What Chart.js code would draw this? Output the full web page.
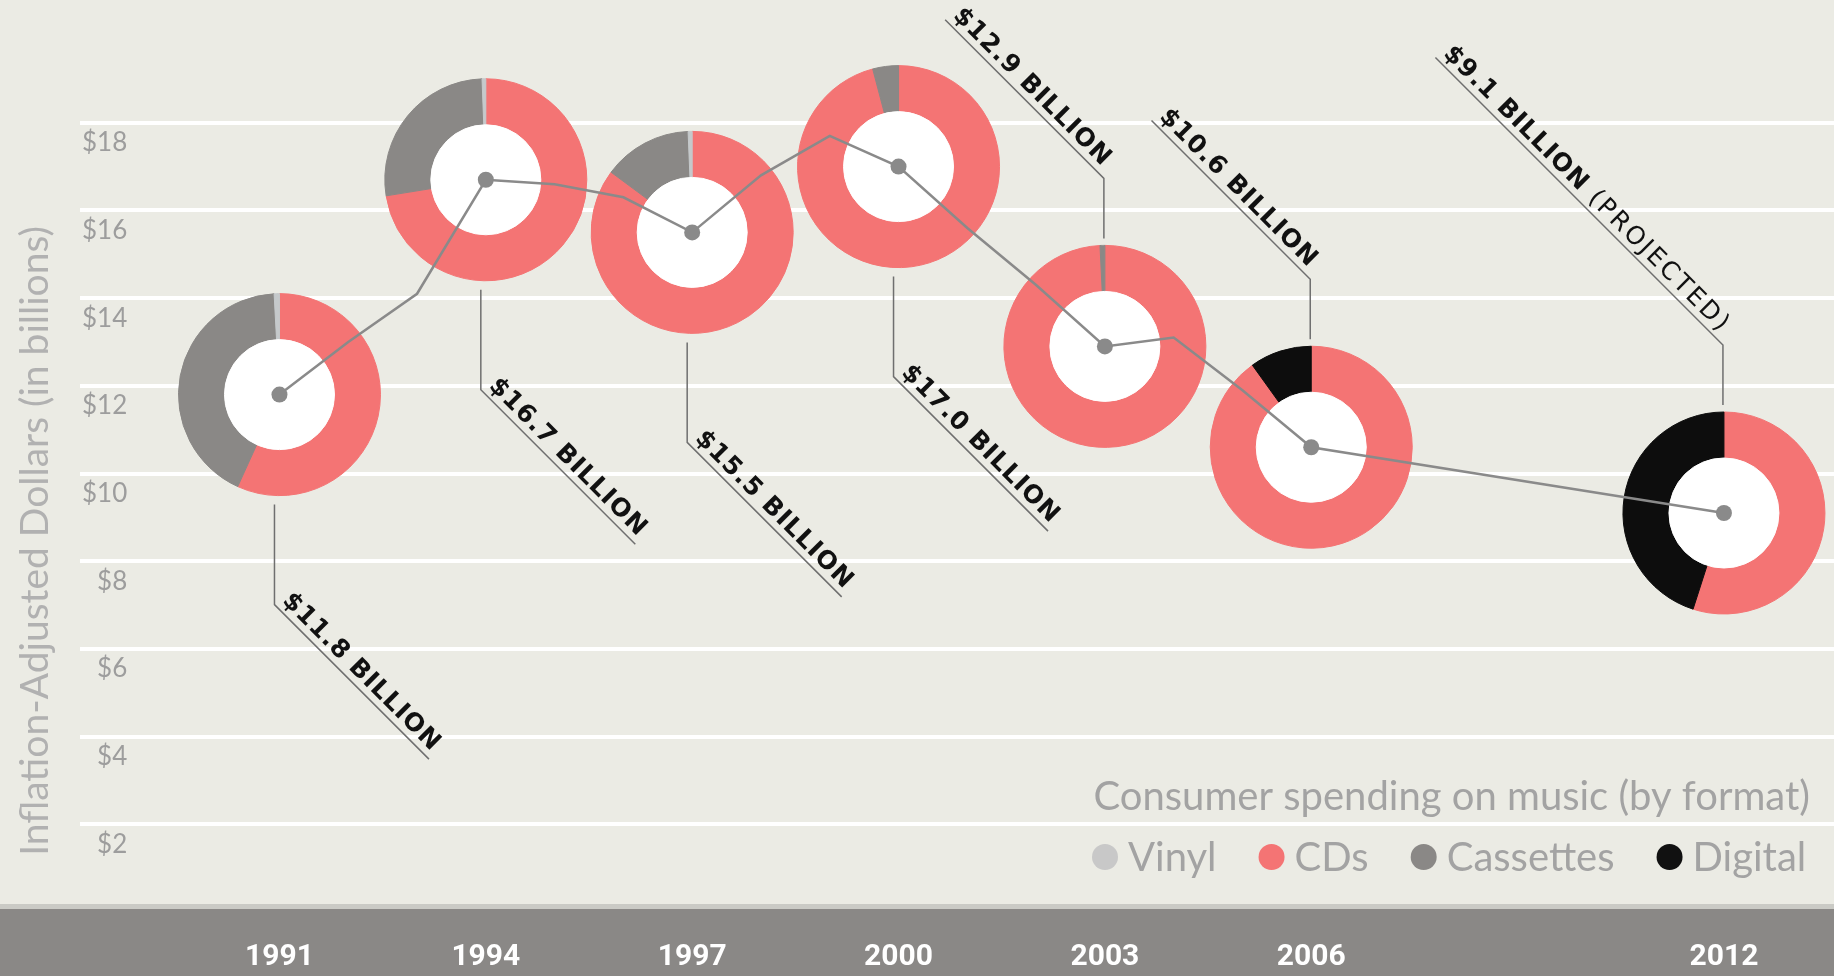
<!DOCTYPE html>
<html>
<head>
<meta charset="utf-8">
<title>Consumer spending on music</title>
<script src="https://cdn.jsdelivr.net/npm/chart.js@4.4.0/dist/chart.umd.min.js"></script>
<style>
  html, body { margin: 0; padding: 0; background: #ebebe4; }
  #wrap { width: 1834px; height: 976px; }
</style>
</head>
<body>
<div id="wrap"><canvas id="music-chart" width="1834" height="976"></canvas></div>
<script>
// yearly total spending, inflation adjusted ($ billions)
const years  = [1991, 1992, 1993, 1994, 1995, 1996, 1997, 1998, 1999, 2000, 2001, 2002, 2003, 2004, 2005, 2006, 2012];
const totals = [11.8, 13.0, 14.1, 16.7, 16.6, 16.3, 15.5, 16.8, 17.7, 17.0, 15.6, 14.3, 12.9, 13.1, 11.9, 10.6, 9.1];

// years that get a format donut
const snapshotYears = [1991, 1994, 1997, 2000, 2003, 2006, 2012];
const projectedYears = [2012];

// split by format for each snapshot year ($ billions)
const cds       = [6.7, 12.1, 13.2, 16.3, 12.8, 9.55, 5.0];
const digital   = [0, 0, 0, 0, 0, 1.05, 4.1];
const cassettes = [5.0, 4.5, 2.2, 0.7, 0.1, 0, 0];
const vinyl     = [0.1, 0.1, 0.1, 0, 0, 0, 0];

const yTicks = [2, 4, 6, 8, 10, 12, 14, 16, 18];
const legendOrder = ["Vinyl", "CDs", "Cassettes", "Digital"];

// styling
const formatColors = { Vinyl: "#c5c9cb", CDs: "#f47474", Cassettes: "#8a8886", Digital: "#0d0d0d" };
const legendColors = { Vinyl: "#c8c8c8", CDs: "#f47474", Cassettes: "#8a8886", Digital: "#111111" };
const calloutBelow = [true, true, true, true, false, false, false];
const BG = "#ebebe4";
const LINE_GREY = "#8a8a8a";
const RING_OUTER = 101, RING_INNER = 55;
const LABEL_FONT = "25px 'DejaVu Sans'";

const ArcElement = Chart.registry.getElement("arc");

function totalFor(year) {
    return totals[years.indexOf(year)];
}

function drawArc(ctx, cx, cy, start, end, inner, outer, color) {
    const arc = new ArcElement({
        x: cx, y: cy,
        startAngle: start, endAngle: end, circumference: end - start,
        innerRadius: inner, outerRadius: outer,
        options: {
            backgroundColor: color, borderColor: color, borderWidth: 1, borderAlign: "center",
            borderRadius: 0, spacing: 0, offset: 0, circular: true,
            borderJoinStyle: "round", borderDash: [], borderDashOffset: 0
        }
    });
    arc.draw(ctx);
}

// background + grey year band
const backdrop = {
    id: "backdrop",
    beforeDraw(chart) {
        const { ctx, width, height, chartArea } = chart;
        ctx.save();
        ctx.fillStyle = BG;
        ctx.fillRect(0, 0, width, height);
        ctx.fillStyle = "#cacac5";
        ctx.fillRect(0, chartArea.bottom - 8, width, 5);
        ctx.fillStyle = "#8a8886";
        ctx.fillRect(0, chartArea.bottom - 3, width, height);
        ctx.restore();
    }
};

// format donuts sitting on the line
const donuts = {
    id: "donuts",
    beforeDatasetsDraw(chart) {
        const { ctx, scales: { x, y } } = chart;
        const rings = [[cds, "CDs"], [digital, "Digital"], [cassettes, "Cassettes"], [vinyl, "Vinyl"]];
        snapshotYears.forEach((yr, i) => {
            const cx = x.getPixelForValue(yr);
            const cy = y.getPixelForValue(totalFor(yr));
            const sum = rings.reduce((s, [vals]) => s + vals[i], 0);
            let a = -Math.PI / 2;
            rings.forEach(([vals, name]) => {
                if (!vals[i]) return;
                const sweep = vals[i] / sum * Math.PI * 2;
                drawArc(ctx, cx, cy, a, a + sweep, RING_INNER, RING_OUTER, formatColors[name]);
                a += sweep;
            });
            drawArc(ctx, cx, cy, 0, Math.PI * 2, 0, RING_INNER, "#ffffff");
        });
    }
};

// rotated "$xx.x BILLION" callouts with leader lines
const callouts = {
    id: "callouts",
    afterDatasetsDraw(chart) {
        const { ctx, scales: { x, y } } = chart;
        const k = Math.SQRT1_2;
        snapshotYears.forEach((yr, i) => {
            const total = totalFor(yr);
            const cx = x.getPixelForValue(yr);
            const cy = y.getPixelForValue(total);
            const main = "$" + total.toFixed(1) + " BILLION";
            const extra = projectedYears.includes(yr) ? " (PROJECTED)" : "";

            ctx.save();
            ctx.letterSpacing = "1px";
            ctx.font = "bold " + LABEL_FONT;
            const wMain = ctx.measureText(main).width;
            ctx.letterSpacing = "2.5px";
            ctx.font = LABEL_FONT;
            const wExtra = extra ? ctx.measureText(extra).width : 0;
            const w = wMain + wExtra;

            let sx, sy;
            ctx.strokeStyle = "#6f6f6f";
            ctx.lineWidth = 1.5;
            ctx.beginPath();
            if (calloutBelow[i]) {
                const vx = cx - 5, vy0 = cy + RING_OUTER + 9, vy1 = vy0 + 100;
                const d = (w + 6) * k;
                ctx.moveTo(vx, vy0);
                ctx.lineTo(vx, vy1);
                ctx.lineTo(vx + d, vy1 + d);
                sx = vx; sy = vy1;
            } else {
                const vx = cx - 1, vy0 = cy - RING_OUTER - 7, vy1 = vy0 - 60;
                const d = (w + 12) * k;
                ctx.moveTo(vx, vy0);
                ctx.lineTo(vx, vy1);
                ctx.lineTo(vx - d, vy1 - d);
                sx = vx - d; sy = vy1 - d;
            }
            ctx.stroke();

            ctx.translate(sx, sy);
            ctx.rotate(Math.PI / 4);
            ctx.fillStyle = "#111";
            ctx.textBaseline = "alphabetic";
            ctx.textAlign = "left";
            ctx.letterSpacing = "1px";
            ctx.font = "bold " + LABEL_FONT;
            ctx.fillText(main, 3, -7);
            if (extra) {
                ctx.letterSpacing = "2.5px";
                ctx.font = LABEL_FONT;
                ctx.fillText(extra, 3 + wMain, -7);
            }
            ctx.restore();
        });
    }
};

// axis title + legend
const legendBox = {
    id: "legendBox",
    afterDraw(chart) {
        const { ctx } = chart;
        ctx.save();
        ctx.translate(35, 541);
        ctx.rotate(-Math.PI / 2);
        ctx.font = "39px Lato";
        ctx.fillStyle = "#b1b1b1";
        ctx.textAlign = "center";
        ctx.textBaseline = "middle";
        ctx.fillText("Inflation-Adjusted Dollars (in billions)", 0, 0);
        ctx.restore();

        ctx.save();
        ctx.font = "40px Lato";
        ctx.fillStyle = "#a3a3a3";
        ctx.textBaseline = "middle";
        ctx.textAlign = "right";
        ctx.fillText("Consumer spending on music (by format)", 1810, 797);

        ctx.textAlign = "left";
        let lx = 1092;
        const ly = 857;
        legendOrder.forEach(name => {
            ctx.fillStyle = legendColors[name];
            ctx.beginPath();
            ctx.arc(lx + 13, ly, 13, 0, Math.PI * 2);
            ctx.fill();
            ctx.fillStyle = "#a3a3a3";
            ctx.fillText(name, lx + 36, ly + 1);
            lx += 36 + ctx.measureText(name).width + 42;
        });
        ctx.restore();
    }
};

new Chart(document.getElementById("music-chart"), {
    type: "line",
    data: {
        datasets: [{
            data: years.map((yr, i) => ({ x: yr, y: totals[i] })),
            borderColor: LINE_GREY,
            borderWidth: 2.5,
            tension: 0,
            pointRadius: c => snapshotYears.includes(c.raw.x) ? 8 : 0,
            pointBackgroundColor: LINE_GREY,
            pointBorderWidth: 0,
            pointHoverRadius: 0
        }]
    },
    options: {
        responsive: false,
        animation: false,
        devicePixelRatio: 1,
        events: [],
        layout: { autoPadding: false, padding: { left: 70, right: 0, top: 0, bottom: 0 } },
        plugins: { legend: { display: false }, tooltip: { enabled: false } },
        scales: {
            x: {
                type: "linear",
                min: 1988.1,
                max: 2013.6,
                afterBuildTicks: s => { s.ticks = snapshotYears.map(v => ({ value: v })); },
                afterFit: s => {
                    s.height = 64;
                    s.paddingLeft = 0; s.paddingRight = 0;
                },
                grid: { display: false, drawTicks: false },
                border: { display: false },
                ticks: {
                    autoSkip: false, maxRotation: 0, padding: 27, color: "#ffffff",
                    font: { family: "Roboto", size: 30, weight: "bold" },
                    callback: v => String(v)
                }
            },
            y: {
                min: 0,
                max: 20.8,
                afterBuildTicks: s => { s.ticks = yTicks.map(v => ({ value: v })); },
                afterFit: s => {
                    s.width = 10;
                    s.paddingTop = 0; s.paddingBottom = 0;
                },
                grid: { color: "#ffffff", lineWidth: 4, drawTicks: false },
                border: { display: false },
                ticks: {
                    mirror: true, crossAlign: "far", padding: 2, labelOffset: 20,
                    color: "#9d9d9d", font: { family: "Lato", size: 26 },
                    callback: v => "$" + v
                }
            }
        }
    },
    plugins: [backdrop, donuts, callouts, legendBox]
});
</script>
</body>
</html>
